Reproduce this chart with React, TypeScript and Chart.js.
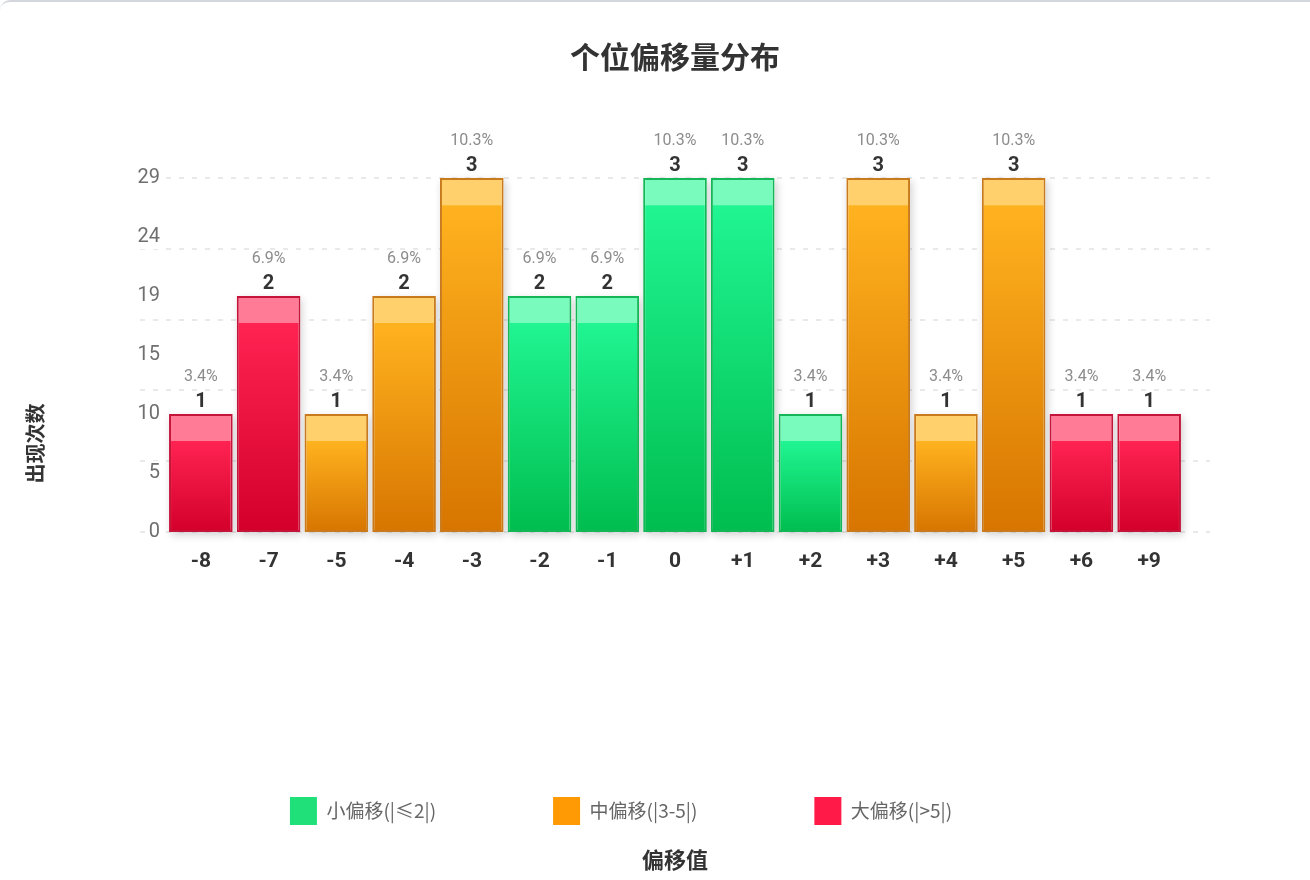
import { useEffect, useRef } from "react";
import { Chart, registerables } from "chart.js";

Chart.register(...registerables);

const OFFSETS = ["-8", "-7", "-5", "-4", "-3", "-2", "-1", "0", "+1", "+2", "+3", "+4", "+5", "+6", "+9"];
const COUNTS = [1, 2, 1, 2, 3, 2, 2, 3, 3, 1, 3, 1, 3, 1, 1];
// 0 = 小偏移, 1 = 中偏移, 2 = 大偏移
const GROUP_OF = [2, 2, 1, 1, 1, 0, 0, 0, 0, 0, 1, 1, 1, 2, 2];
const GROUP_NAMES = ["小偏移(|≤2|)", "中偏移(|3-5|)", "大偏移(|>5|)"];
const Y_TICK_VALUES = [0, 0.5, 1, 1.5, 2, 2.5, 3];
const Y_TICK_LABELS = ["0", "5", "10", "15", "19", "24", "29"];
const GRID_VALUES = [0, 0.6, 1.2, 1.8, 2.4, 3];

const TOTAL = COUNTS.reduce((a, b) => a + b, 0);

const PALETTE = [
  { band: "#78fbbd", top: "#20f592", bottom: "#00bd4e", border: "#14b657", legend: "#1fe079" },
  { band: "#ffd06c", top: "#ffb21f", bottom: "#d77500", border: "#c97a1c", legend: "#ff9a05" },
  { band: "#ff7b96", top: "#ff2352", bottom: "#d3002b", border: "#c4143a", legend: "#ff1a48" },
];

const NUM_FONT = "Roboto, 'Noto Sans', sans-serif";
const CJK_FONT = "'Noto Sans CJK SC', 'Noto Sans', sans-serif";
const BAND_PX = 27; // light strip at the top of every bar
const GRID_OVERHANG = 27; // dashed grid runs a little past the plot
const LEGEND_GAP = 117;

const barFill = (group: number) => (c: any) => {
  const p = PALETTE[group];
  if (c.type !== "data" || c.raw == null) return p.legend;
  const chart = c.chart;
  const y = chart.scales?.y;
  if (!chart.chartArea || !y) return p.top;
  const top = y.getPixelForValue(c.raw);
  const base = y.getPixelForValue(0);
  const h = base - top;
  if (!isFinite(h) || h <= 0) return p.top;
  const g = chart.ctx.createLinearGradient(0, top, 0, base);
  const band = Math.min(BAND_PX / h, 0.9);
  g.addColorStop(0, p.band);
  g.addColorStop(band, p.band);
  g.addColorStop(band + 0.002, p.top);
  g.addColorStop(1, p.bottom);
  return g;
};

const eachBar = (chart: any, fn: (bar: any, value: number) => void) => {
  chart.data.datasets.forEach((ds: any, i: number) => {
    chart.getDatasetMeta(i).data.forEach((bar: any, j: number) => {
      const v = ds.data[j];
      if (v == null) return;
      fn(bar, v);
    });
  });
};

const gridPlugin = {
  id: "dashedGrid",
  beforeDraw(chart: any) {
    const { ctx, chartArea, scales } = chart;
    ctx.save();
    ctx.strokeStyle = "#e2e2e2";
    ctx.lineWidth = 1.5;
    ctx.setLineDash([5, 8]);
    GRID_VALUES.forEach((v) => {
      const py = Math.round(scales.y.getPixelForValue(v));
      ctx.beginPath();
      ctx.moveTo(chartArea.left - GRID_OVERHANG, py);
      ctx.lineTo(chartArea.right + GRID_OVERHANG, py);
      ctx.stroke();
    });
    ctx.restore();
  },
};

const shadowPlugin = {
  id: "barShadow",
  beforeDatasetsDraw(chart: any) {
    const { ctx } = chart;
    ctx.save();
    ctx.shadowColor = "rgba(0,0,0,0.18)";
    ctx.shadowBlur = 8;
    ctx.shadowOffsetX = 2;
    ctx.shadowOffsetY = 3;
    ctx.fillStyle = "#fff";
    eachBar(chart, (bar) => {
      const { x, y, base, width } = bar.getProps(["x", "y", "base", "width"], true);
      ctx.fillRect(x - width / 2, y, width, base - y);
    });
    ctx.restore();
  },
};

const valueLabelPlugin = {
  id: "valueLabels",
  afterDatasetsDraw(chart: any) {
    const { ctx } = chart;
    ctx.save();
    ctx.textAlign = "center";
    ctx.textBaseline = "alphabetic";
    eachBar(chart, (bar, v) => {
      const { x, y } = bar.getProps(["x", "y"], true);
      ctx.fillStyle = "#333";
      ctx.font = `bold 20px ${NUM_FONT}`;
      ctx.fillText(String(v), x, y - 7);
      ctx.fillStyle = "#8c8c8c";
      ctx.font = `16px ${NUM_FONT}`;
      ctx.fillText(`${((v / TOTAL) * 100).toFixed(1)}%`, x, y - 33);
    });
    ctx.restore();
  },
};

export default function App() {
  const canvasRef = useRef<HTMLCanvasElement>(null);

  useEffect(() => {
    document.body.style.margin = "0";
    if (!canvasRef.current) return;

    const datasets = GROUP_NAMES.map((name, g) => ({
      label: name,
      data: COUNTS.map((c, i) => (GROUP_OF[i] === g ? c : null)),
      backgroundColor: barFill(g),
      borderColor: PALETTE[g].border,
      xAxisID: "x",
      yAxisID: "y",
    }));

    const chart = new Chart(canvasRef.current, {
      type: "bar",
      data: { labels: OFFSETS, datasets },
      plugins: [gridPlugin, shadowPlugin, valueLabelPlugin],
      options: {
        animation: false,
        responsive: true,
        maintainAspectRatio: false,
        layout: { padding: { left: 0, right: 68, top: 0, bottom: 0 } },
        datasets: {
          bar: {
            grouped: false,
            barPercentage: 0.94,
            categoryPercentage: 1,
            borderWidth: 2,
            borderSkipped: false,
          },
        },
        plugins: {
          title: {
            display: true,
            text: "个位偏移量分布",
            fullSize: false,
            color: "#333",
            font: { family: CJK_FONT, size: 30, weight: "bold", lineHeight: 1.2 },
            padding: { top: 39, bottom: 103 },
          },
          legend: {
            position: "bottom",
            // empty title with negative padding pulls the row up so the wide
            // horizontal gap doesn't also push the plot upward
            title: {
              display: true,
              text: "",
              font: { size: 1, lineHeight: 1 },
              padding: { top: 88 - LEGEND_GAP - 1, bottom: 0 },
            },
            labels: {
              boxWidth: 27,
              boxHeight: 28,
              padding: LEGEND_GAP,
              color: "#666",
              font: { family: CJK_FONT, size: 19 },
              generateLabels: () =>
                GROUP_NAMES.map((name, g) => ({
                  text: name,
                  fillStyle: PALETTE[g].legend,
                  strokeStyle: PALETTE[g].legend,
                  lineWidth: 0,
                  fontColor: "#666",
                  hidden: false,
                  datasetIndex: g,
                })),
            },
          },
          tooltip: { enabled: false },
        },
        scales: {
          x: {
            type: "category",
            position: { y: 0 },
            grid: { display: false, drawTicks: false },
            border: { display: false },
            ticks: {
              color: "#333",
              font: { family: NUM_FONT, size: 21, weight: "bold" },
              padding: 17,
              maxRotation: 0,
              autoSkip: false,
            },
          },
          xTitle: {
            type: "category",
            position: "bottom",
            weight: 2000,
            display: true,
            grid: { display: false, drawTicks: false },
            border: { display: false },
            ticks: { display: false },
            title: {
              display: true,
              text: "偏移值",
              color: "#333",
              font: { family: CJK_FONT, size: 22, weight: "bold", lineHeight: 1.2 },
              padding: { top: 11.8, bottom: 6.8 },
            },
          },
          y: {
            type: "linear",
            position: "left",
            min: -1.5,
            max: 3,
            grid: { display: false, drawTicks: false },
            border: { display: false },
            afterFit: (s: any) => {
              s.width = 167;
            },
            afterBuildTicks: (s: any) => {
              s.ticks = Y_TICK_VALUES.map((value) => ({ value }));
            },
            ticks: {
              padding: 7,
              color: "#6f6f6f",
              font: { family: NUM_FONT, size: 20 },
              callback: (_v: any, i: number) => Y_TICK_LABELS[i] ?? "",
              showLabelBackdrop: true,
              backdropColor: "#fff",
              backdropPadding: { x: 3, y: 0 },
            },
            title: {
              display: true,
              text: "出现次数",
              color: "#333",
              font: { family: CJK_FONT, size: 20, weight: "bold", lineHeight: 1.2 },
              padding: { top: 23, bottom: 0 },
            },
          },
          yRight: {
            type: "linear",
            position: "right",
            display: true,
            grid: { display: false, drawTicks: false },
            border: { display: false },
            ticks: { display: false },
            afterFit: (s: any) => {
              s.width = 59;
            },
          },
        },
      } as any,
    });

    return () => chart.destroy();
  }, []);

  return (
    <div style={{ position: "relative", width: 1310, height: 880, background: "#fff", overflow: "hidden" }}>
      <div
        style={{
          position: "absolute",
          top: 0,
          left: 0,
          width: 1340,
          height: 24,
          borderTop: "2px solid #d3d6db",
          borderTopLeftRadius: 10,
          pointerEvents: "none",
        }}
      />
      <canvas ref={canvasRef} role="img" aria-label="个位偏移量分布柱状图" />
    </div>
  );
}
